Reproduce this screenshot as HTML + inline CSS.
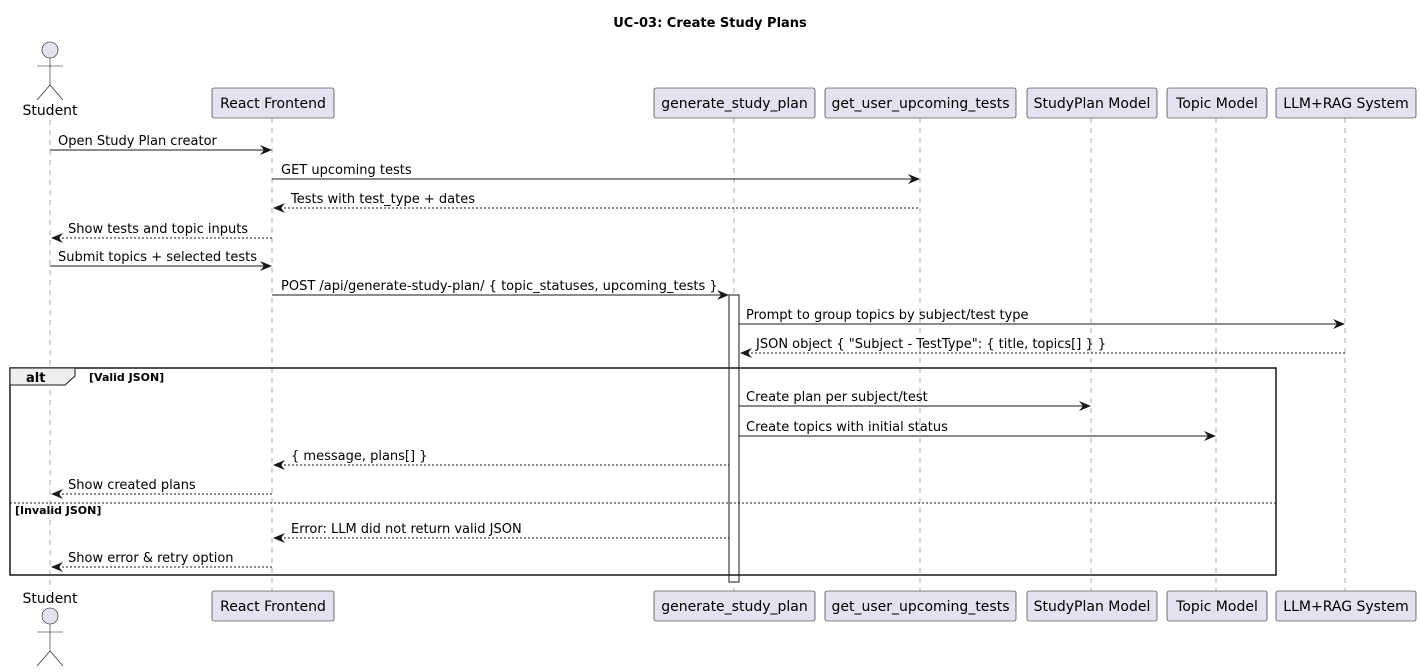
<!DOCTYPE html>
<html><head><meta charset="utf-8"><style>
html,body{margin:0;padding:0;background:#fff;}
svg{display:block;}
text{font-family:"DejaVu Sans","Liberation Sans",sans-serif;font-size:13px;fill:#000;}
.ll{stroke:#999;stroke-width:0.8;stroke-dasharray:5,5;}
.box{fill:#e2e2f0;stroke:#181818;stroke-width:0.6;}
.m{stroke:#181818;stroke-width:1;}
.d{stroke:#181818;stroke-width:1;stroke-dasharray:2,2;}
.ah{fill:#181818;}
</style></head><body>
<svg width="1420" height="672" viewBox="0 0 1420 672" xmlns="http://www.w3.org/2000/svg">
<text x="710" y="27" text-anchor="middle" style="font-weight:bold">UC-03: Create Study Plans</text>

<line class="ll" x1="50" y1="120" x2="50" y2="591"/>
<line class="ll" x1="272" y1="118" x2="272" y2="591"/>
<line class="ll" x1="734" y1="118" x2="734" y2="591"/>
<line class="ll" x1="920" y1="118" x2="920" y2="591"/>
<line class="ll" x1="1091" y1="118" x2="1091" y2="591"/>
<line class="ll" x1="1216" y1="118" x2="1216" y2="591"/>
<line class="ll" x1="1345" y1="118" x2="1345" y2="591"/>

<g fill="#e2e2f0" stroke="#181818" stroke-width="0.6">
<circle cx="50" cy="50" r="8"/>
<line x1="50" y1="58" x2="50" y2="85"/><line x1="37" y1="66" x2="63" y2="66"/>
<line x1="50" y1="85" x2="37" y2="100"/><line x1="50" y1="85" x2="63" y2="100"/>
</g>
<text x="50" y="115" text-anchor="middle" style="font-size:14px">Student</text>
<text x="50" y="603" text-anchor="middle" style="font-size:14px">Student</text>
<g fill="#e2e2f0" stroke="#181818" stroke-width="0.6">
<circle cx="50" cy="616" r="8"/>
<line x1="50" y1="624" x2="50" y2="651"/><line x1="37" y1="632" x2="63" y2="632"/>
<line x1="50" y1="651" x2="37" y2="666"/><line x1="50" y1="651" x2="63" y2="666"/>
</g>

<g>
<rect class="box" x="212" y="88" width="122" height="30" rx="2"/><text x="273" y="108" text-anchor="middle" style="font-size:14px">React Frontend</text>
<rect class="box" x="654" y="88" width="161" height="30" rx="2"/><text x="734.5" y="108" text-anchor="middle" style="font-size:14px">generate_study_plan</text>
<rect class="box" x="825" y="88" width="191" height="30" rx="2"/><text x="920.5" y="108" text-anchor="middle" style="font-size:14px">get_user_upcoming_tests</text>
<rect class="box" x="1027" y="88" width="130" height="30" rx="2"/><text x="1092" y="108" text-anchor="middle" style="font-size:14px">StudyPlan Model</text>
<rect class="box" x="1167" y="88" width="100" height="30" rx="2"/><text x="1217" y="108" text-anchor="middle" style="font-size:14px">Topic Model</text>
<rect class="box" x="1276" y="88" width="140" height="30" rx="2"/><text x="1346" y="108" text-anchor="middle" style="font-size:14px">LLM+RAG System</text>

<rect class="box" x="212" y="591" width="122" height="30" rx="2"/><text x="273" y="611" text-anchor="middle" style="font-size:14px">React Frontend</text>
<rect class="box" x="654" y="591" width="161" height="30" rx="2"/><text x="734.5" y="611" text-anchor="middle" style="font-size:14px">generate_study_plan</text>
<rect class="box" x="825" y="591" width="191" height="30" rx="2"/><text x="920.5" y="611" text-anchor="middle" style="font-size:14px">get_user_upcoming_tests</text>
<rect class="box" x="1027" y="591" width="130" height="30" rx="2"/><text x="1092" y="611" text-anchor="middle" style="font-size:14px">StudyPlan Model</text>
<rect class="box" x="1167" y="591" width="100" height="30" rx="2"/><text x="1217" y="611" text-anchor="middle" style="font-size:14px">Topic Model</text>
<rect class="box" x="1276" y="591" width="140" height="30" rx="2"/><text x="1346" y="611" text-anchor="middle" style="font-size:14px">LLM+RAG System</text>
</g>

<rect x="729" y="295" width="10" height="287" fill="#fff" stroke="#181818" stroke-width="1"/>

<rect x="10" y="368" width="1266" height="207" fill="none" stroke="#181818" stroke-width="1.5"/>
<path d="M10,368 H75 V376 L65,385 H10 Z" fill="#eee" stroke="#181818" stroke-width="1"/>
<text x="26" y="382" style="font-weight:bold;font-size:13px">alt</text>
<text x="89" y="381" style="font-weight:bold;font-size:11px">[Valid JSON]</text>
<line x1="10" y1="503" x2="1276" y2="503" stroke="#181818" stroke-width="1" stroke-dasharray="2,2"/>
<text x="15" y="514" style="font-weight:bold;font-size:11px">[Invalid JSON]</text>

<line class="m" x1="50" y1="150" x2="270" y2="150"/><path class="ah" d="M272,150 l-12,-5 l4,5 l-4,5z"/>
<text x="58" y="145">Open Study Plan creator</text>

<line class="m" x1="272" y1="179" x2="918" y2="179"/><path class="ah" d="M920,179 l-12,-5 l4,5 l-4,5z"/>
<text x="281" y="174">GET upcoming tests</text>

<line class="d" x1="276" y1="208" x2="920" y2="208"/><path class="ah" d="M273,208 l12,-5 l-4,5 l4,5z"/>
<text x="291" y="203">Tests with test_type + dates</text>

<line class="d" x1="54" y1="238" x2="272" y2="238"/><path class="ah" d="M51,238 l12,-5 l-4,5 l4,5z"/>
<text x="68" y="233">Show tests and topic inputs</text>

<line class="m" x1="50" y1="266" x2="270" y2="266"/><path class="ah" d="M272,266 l-12,-5 l4,5 l-4,5z"/>
<text x="58" y="261">Submit topics + selected tests</text>

<line class="m" x1="272" y1="295" x2="727" y2="295"/><path class="ah" d="M729,295 l-12,-5 l4,5 l-4,5z"/>
<text x="281" y="290">POST /api/generate-study-plan/ { topic_statuses, upcoming_tests }</text>

<line class="m" x1="739" y1="324" x2="1343" y2="324"/><path class="ah" d="M1345,324 l-12,-5 l4,5 l-4,5z"/>
<text x="746" y="319">Prompt to group topics by subject/test type</text>

<line class="d" x1="743" y1="353" x2="1345" y2="353"/><path class="ah" d="M740,353 l12,-5 l-4,5 l4,5z"/>
<text x="756" y="348">JSON object { "Subject - TestType": { title, topics[] } }</text>

<line class="m" x1="739" y1="406" x2="1089" y2="406"/><path class="ah" d="M1091,406 l-12,-5 l4,5 l-4,5z"/>
<text x="746" y="401">Create plan per subject/test</text>

<line class="m" x1="739" y1="436" x2="1214" y2="436"/><path class="ah" d="M1216,436 l-12,-5 l4,5 l-4,5z"/>
<text x="746" y="431">Create topics with initial status</text>

<line class="d" x1="276" y1="465" x2="729" y2="465"/><path class="ah" d="M273,465 l12,-5 l-4,5 l4,5z"/>
<text x="291" y="460">{ message, plans[] }</text>

<line class="d" x1="54" y1="494" x2="272" y2="494"/><path class="ah" d="M51,494 l12,-5 l-4,5 l4,5z"/>
<text x="68" y="489">Show created plans</text>

<line class="d" x1="276" y1="538" x2="729" y2="538"/><path class="ah" d="M273,538 l12,-5 l-4,5 l4,5z"/>
<text x="291" y="533">Error: LLM did not return valid JSON</text>

<line class="d" x1="54" y1="567" x2="272" y2="567"/><path class="ah" d="M51,567 l12,-5 l-4,5 l4,5z"/>
<text x="68" y="562">Show error &amp; retry option</text>
</svg>
</body></html>
